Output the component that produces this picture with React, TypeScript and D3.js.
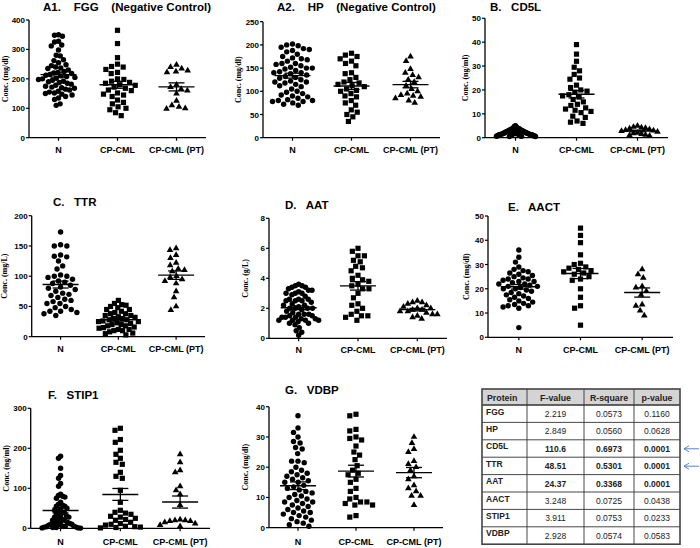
import React from 'react';
import * as d3 from 'd3';

// ---------- DATA ----------
const categories = ['N', 'CP-CML', 'CP-CML (PT)'];

const fggN = [350, 348, 345, 328, 325, 315, 312, 298, 280, 278, 265, 262, 255, 248, 245, 240, 237, 235, 230, 225, 222, 220, 218, 215, 212, 210, 208, 205, 202, 200, 198, 195, 192, 190, 188, 185, 182, 178, 175, 172, 170, 168, 165, 162, 158, 155, 152, 150, 148, 145, 140, 135, 130, 115, 110];
const fggCML = [365, 320, 272, 250, 242, 240, 232, 222, 218, 200, 198, 192, 188, 185, 180, 178, 172, 168, 162, 160, 152, 148, 145, 140, 128, 120, 115, 105, 100, 95, 85, 75];
const fggPT = [248, 240, 235, 228, 225, 222, 180, 172, 165, 160, 150, 125, 110, 105, 100, 98];

const hpN = [202, 200, 198, 195, 192, 190, 188, 185, 180, 175, 172, 170, 168, 165, 160, 158, 155, 152, 150, 148, 145, 142, 140, 138, 135, 132, 130, 128, 125, 122, 120, 118, 115, 112, 110, 105, 100, 98, 95, 92, 90, 88, 85, 82, 80, 80, 78, 78, 75, 72, 70, 140, 150, 160, 120];
const hpCML = [182, 178, 175, 170, 165, 160, 155, 140, 138, 130, 125, 120, 118, 115, 112, 110, 105, 102, 100, 95, 90, 88, 80, 75, 70, 60, 55, 50, 45, 35];
const hpPT = [175, 165, 148, 140, 135, 130, 125, 120, 112, 105, 100, 95, 92, 90, 88, 85, 80, 75];

const cd5lN = [5.0, 4.8, 4.5, 4.2, 4.0, 3.8, 3.8, 3.5, 3.5, 3.2, 3.0, 3.0, 2.8, 2.8, 2.6, 2.5, 2.5, 2.4, 2.2, 2.2, 2.0, 2.0, 2.0, 1.9, 1.8, 1.8, 1.7, 1.6, 1.5, 1.5, 1.5, 1.4, 1.3, 1.2, 1.2, 1.1, 1.0, 1.0, 1.0, 0.9, 0.9, 0.8, 0.8, 0.7, 0.7, 0.6, 0.6, 0.5, 0.5, 1.2, 1.6, 2.3, 2.7, 3.3, 4.1];
const cd5lCML = [39, 35, 32, 29.5, 28, 26.5, 25, 24.5, 22, 21, 20, 19.5, 19, 18, 17.5, 17, 16, 15, 14, 13.5, 12.5, 12, 11.5, 11, 10.5, 9, 8.5, 7, 6.5, 6];
const cd5lPT = [5, 4.5, 4.2, 4, 3.8, 3.5, 3.2, 3, 2.8, 2.5, 2, 1.8, 1.5, 1.2, 1, 0.8];

const ttrN = [173, 152, 150, 150, 135, 133, 132, 125, 117, 112, 102, 100, 100, 98, 95, 92, 90, 88, 85, 82, 80, 78, 75, 72, 70, 68, 65, 62, 60, 58, 55, 55, 50, 48, 45, 42, 42, 40, 38, 35];
const ttrCML = [60, 55, 53, 52, 50, 48, 45, 45, 42, 40, 38, 38, 35, 35, 33, 32, 30, 30, 28, 28, 26, 25, 25, 23, 22, 20, 20, 18, 18, 16, 15, 14, 12, 12, 10, 10, 8, 6, 5, 3];
const ttrPT = [146, 143, 135, 130, 122, 118, 112, 110, 108, 100, 98, 95, 92, 88, 75, 65, 50, 44];

const aatN = [3.6, 3.5, 3.5, 3.4, 3.4, 3.3, 3.2, 3.1, 3.0, 3.0, 2.9, 2.8, 2.6, 2.6, 2.5, 2.5, 2.4, 2.3, 2.2, 2.2, 2.1, 2.0, 2.0, 2.0, 1.9, 1.8, 1.7, 1.6, 1.6, 1.5, 1.5, 1.4, 1.4, 1.3, 1.3, 1.2, 1.2, 1.2, 1.1, 1.0, 1.0, 0.9, 0.7, 0.5, 0.4, 0.2, 3.0, 2.5, 1.2, 1.6, 2.0, 3.2, 1.4, 2.6];
const aatCML = [6.0, 5.8, 5.5, 5.5, 5.2, 5.1, 4.8, 4.7, 4.5, 4.2, 4.0, 3.9, 3.8, 3.6, 3.5, 3.3, 3.3, 3.0, 2.7, 2.3, 2.2, 2.0, 1.8, 1.6, 1.5, 1.5, 1.4, 1.2];
const aatPT = [2.5, 2.4, 2.4, 2.3, 2.2, 2.1, 2.0, 2.0, 1.9, 1.9, 1.8, 1.8, 1.7, 1.6, 1.6, 1.5, 1.4, 1.3];

const aactN = [36, 33, 31, 29, 28, 27.5, 27, 26.5, 26, 25.5, 25, 24.5, 24, 24, 23.5, 23, 23, 22.5, 22, 22, 21.5, 21, 21, 20.5, 20, 20, 19.5, 19, 18.5, 18, 17.5, 17, 16.5, 16, 15.5, 15, 14.5, 14, 13.5, 13, 13, 12.5, 12, 4];
const aactCML = [45, 42, 39, 34, 30.5, 30, 29, 28.5, 28, 27.5, 27, 26.5, 26, 25, 24, 23.5, 20, 16.5, 13, 12, 5];
const aactPT = [28, 26, 24.5, 21, 20.5, 19, 17.5, 13.5, 13, 11, 9];

const stip1N = [180, 175, 150, 132, 125, 112, 105, 85, 82, 80, 78, 75, 65, 60, 58, 55, 55, 50, 48, 45, 42, 40, 38, 35, 32, 30, 28, 28, 25, 22, 20, 20, 18, 15, 15, 12, 12, 10, 10, 8, 8, 6, 5, 5, 4, 3, 3, 2, 2, 1, 1, 0.5];
const stip1CML = [250, 245, 222, 215, 195, 185, 175, 165, 160, 140, 130, 125, 95, 65, 45, 40, 38, 35, 30, 28, 25, 22, 20, 15, 12, 10, 8, 5, 4, 3, 2, 1];
const stip1PT = [185, 165, 145, 140, 105, 95, 85, 58, 22, 20, 20, 18, 18, 15, 12, 8, 5];

const vdbpN = [37, 33, 31.5, 30, 28.5, 28, 26.5, 26, 24.5, 22, 22, 21.5, 20, 19, 18.5, 18, 17.5, 17, 16.5, 16, 15.5, 15, 15, 14, 13.5, 13, 12.5, 12, 11.5, 11, 10.5, 10, 9.5, 9, 8.5, 8.5, 8, 7.5, 7, 6.5, 6, 5.5, 5, 5, 4.5, 4, 3.5, 3, 2.5, 2, 1.5, 1, 0.5];
const vdbpCML = [37.5, 37, 32.5, 32, 30, 29.5, 29, 27, 25, 24, 22.5, 20.5, 19, 18, 17.5, 16, 15, 13, 12, 10, 9.5, 8.5, 8.5, 8, 7.5, 7.5, 4, 3.5];
const vdbpPT = [30, 28, 26, 25, 22, 21, 20, 19, 17, 16, 14, 13, 12, 10.5, 10.5, 7.5];

const proteins = ['FGG', 'HP', 'CD5L', 'TTR', 'AAT', 'AACT', 'STIP1', 'VDBP'];
const fValues = ['2.219', '2.849', '110.6', '48.51', '24.37', '3.248', '3.911', '2.928'];
const rSquares = ['0.0573', '0.0560', '0.6973', '0.5301', '0.3368', '0.0725', '0.0753', '0.0574'];
const pValues = ['0.1160', '0.0628', '0.0001', '0.0001', '0.0001', '0.0438', '0.0233', '0.0583'];
const significant = [false, false, true, true, true, false, false, false];
const arrowRows = ['CD5L', 'TTR'];

// ---------- LAYOUT ----------
const panels = [
  { groups: [fggN, fggCML, fggPT], title: 'A1.    FGG    (Negative Control)', unit: 'Conc. (mg/dl)', max: 400, step: 100, l: 29, r: 206, t: 20, b: 137.7, tx: 43, ty: 11, lx: 8, cy: 153 },
  { groups: [hpN, hpCML, hpPT], title: 'A2.    HP    (Negative Control)', unit: 'Conc. (mg/dl)', max: 250, step: 50, l: 263, r: 440, t: 21.7, b: 137.7, tx: 277, ty: 11, lx: 241, cy: 153 },
  { groups: [cd5lN, cd5lCML, cd5lPT], title: 'B.   CD5L', unit: 'Conc. (ng/ml)', max: 50, step: 10, l: 485, r: 668, t: 18.3, b: 137.7, tx: 490, ty: 11, lx: 468, cy: 153 },
  { groups: [ttrN, ttrCML, ttrPT], title: 'C.   TTR', unit: 'Conc. (mg/L)', max: 200, step: 50, l: 31.7, r: 205, t: 215.7, b: 336.7, tx: 53, ty: 206, lx: 7, cy: 352 },
  { groups: [aatN, aatCML, aatPT], title: 'D.   AAT', unit: 'Conc. (g/L)', max: 8, step: 2, l: 269, r: 447, t: 218.3, b: 338.3, tx: 285, ty: 209, lx: 248, cy: 353 },
  { groups: [aactN, aactCML, aactPT], title: 'E.   AACT', unit: 'Conc. (mg/dl)', max: 50, step: 10, l: 488, r: 673, t: 216, b: 337.3, tx: 508, ty: 211, lx: 468.5, cy: 353 },
  { groups: [stip1N, stip1CML, stip1PT], title: 'F.   STIP1', unit: 'Conc. (ng/ml)', max: 300, step: 100, l: 30.7, r: 210, t: 408.3, b: 528.3, tx: 48, ty: 399, lx: 8.5, cy: 545 },
  { groups: [vdbpN, vdbpCML, vdbpPT], title: 'G.   VDBP', unit: 'Conc. (mg/dl)', max: 40, step: 10, l: 269, r: 443, t: 406.7, b: 527.7, tx: 285, ty: 394, lx: 248, cy: 545 },
];

const SANS = "'Liberation Sans', Arial, sans-serif";
const SERIF = "'Liberation Serif', 'Times New Roman', serif";

const symbolTypes = [d3.symbolCircle, d3.symbolSquare, d3.symbolTriangle];
const symbolSizes = [23, 27, 19];

function swarm(ys: number[], d: number, maxHalf: number): number[] {
  const idx = ys.map((_, i) => i).sort((a, b) => ys[a] - ys[b]);
  const placed: { x: number; y: number }[] = [];
  const xs = new Array(ys.length).fill(0);
  for (const i of idx) {
    const y = ys[i];
    const near = placed.filter((p) => Math.abs(p.y - y) < d);
    const cands = [0];
    for (const p of near) {
      const dx = Math.sqrt(d * d - (p.y - y) ** 2);
      cands.push(p.x + dx, p.x - dx);
    }
    cands.sort((a, b) => Math.abs(a) - Math.abs(b) || a - b);
    let chosen = cands[cands.length - 1];
    for (const c of cands) {
      if (near.every((p) => (p.x - c) ** 2 + (p.y - y) ** 2 >= d * d - 1e-6)) {
        chosen = c;
        break;
      }
    }
    placed.push({ x: chosen, y });
    xs[i] = chosen;
  }
  const m = d3.max(xs, (v: number) => Math.abs(v)) || 0;
  if (m > maxHalf) return xs.map((x) => (x * maxHalf) / m);
  return xs;
}

function Panel({ p }: { p: (typeof panels)[number] }) {
  const y = d3.scaleLinear().domain([0, p.max]).range([p.b, p.t]);
  const x = d3.scalePoint<string>().domain(categories).range([p.l, p.r]).padding(0.5);
  const ticks = d3.range(0, p.max + p.step / 2, p.step);
  return (
    <g>
      <text x={p.tx} y={p.ty} fontFamily={SANS} fontWeight="bold" fontSize={11.5} style={{ whiteSpace: 'pre' }}>
        {p.title}
      </text>
      <text
        transform={`translate(${p.lx},${(p.t + p.b) / 2}) rotate(-90)`}
        textAnchor="middle"
        fontFamily={SERIF}
        fontWeight="bold"
        fontSize={8}
      >
        {p.unit}
      </text>
      {ticks.map((t) => (
        <g key={t}>
          <line x1={p.l - 3} x2={p.l} y1={y(t)} y2={y(t)} stroke="#000" strokeWidth={1.2} />
          <text x={p.l - 4} y={y(t) + 3} textAnchor="end" fontFamily={SANS} fontWeight="bold" fontSize={8}>
            {t}
          </text>
        </g>
      ))}
      {categories.map((c, ci) => {
        const vals = p.groups[ci];
        const ys = vals.map((v) => y(v));
        const xs = swarm(ys, 6.4, 20);
        const cx = x(c)!;
        const mean = d3.mean(vals)!;
        const sem = d3.deviation(vals)! / Math.sqrt(vals.length);
        const sym = d3.symbol().type(symbolTypes[ci]).size(symbolSizes[ci]);
        const path = sym()!;
        return (
          <g key={c}>
            <line x1={cx} x2={cx} y1={p.b} y2={p.b + 3} stroke="#000" strokeWidth={1.2} />
            <text x={cx} y={p.cy} textAnchor="middle" fontFamily={SANS} fontWeight="bold" fontSize={9}>
              {c}
            </text>
            {vals.map((v, i) => (
              <path key={i} d={path} transform={`translate(${cx + xs[i]},${ys[i]})`} fill="#000" />
            ))}
            <line x1={cx - 18} x2={cx + 18} y1={y(mean)} y2={y(mean)} stroke="#000" strokeWidth={1.4} />
            <line x1={cx} x2={cx} y1={y(mean - sem)} y2={y(mean + sem)} stroke="#000" strokeWidth={1.3} />
            <line x1={cx - 8} x2={cx + 8} y1={y(mean + sem)} y2={y(mean + sem)} stroke="#000" strokeWidth={1.3} />
            <line x1={cx - 8} x2={cx + 8} y1={y(mean - sem)} y2={y(mean - sem)} stroke="#000" strokeWidth={1.3} />
          </g>
        );
      })}
      <line x1={p.l} x2={p.l} y1={p.t} y2={p.b} stroke="#000" strokeWidth={1.3} />
      <line x1={p.l} x2={p.r} y1={p.b} y2={p.b} stroke="#000" strokeWidth={1.3} />
    </g>
  );
}

function StatsTable() {
  const colX = [482, 527, 584, 634, 680];
  const top = 389;
  const headH = 16;
  const rowH = 17.4;
  const bottom = top + headH + rowH * proteins.length;
  const headers = ['Protein', 'F-value', 'R-square', 'p-value'];
  const rowTop = (i: number) => top + headH + i * rowH;
  return (
    <g fontFamily={SANS} fill="#222">
      <rect x={colX[0]} y={top} width={colX[4] - colX[0]} height={headH} fill="#d4d4d4" />
      {headers.map((h, i) => (
        <text
          key={h}
          x={i === 0 ? colX[0] + 5 : (colX[i] + colX[i + 1]) / 2}
          y={top + 11.5}
          textAnchor={i === 0 ? 'start' : 'middle'}
          fontWeight="bold"
          fontSize={8.8}
          fill="#222"
        >
          {h}
        </text>
      ))}
      {proteins.map((pr, i) => (
        <g key={pr}>
          <text x={colX[0] + 4} y={rowTop(i) + 9.5} fontWeight="bold" fontSize={8.5} fill="#222">
            {pr}
          </text>
          {[fValues[i], rSquares[i], pValues[i]].map((v, j) => (
            <text
              key={j}
              x={(colX[j + 1] + colX[j + 2]) / 2}
              y={rowTop(i) + 12}
              textAnchor="middle"
              fontWeight={significant[i] ? 'bold' : 'normal'}
              fontSize={8.5}
              fill="#222"
            >
              {v}
            </text>
          ))}
          {i > 0 && <line x1={colX[0]} x2={colX[4]} y1={rowTop(i)} y2={rowTop(i)} stroke="#333" strokeWidth={0.9} />}
          {arrowRows.includes(pr) && (
            <g stroke="#4a74c9" strokeWidth={0.9} fill="none">
              <line x1={684} x2={699} y1={rowTop(i) + 9} y2={rowTop(i) + 9} />
              <polyline points={`689,${rowTop(i) + 6} 684,${rowTop(i) + 9} 689,${rowTop(i) + 12}`} />
            </g>
          )}
        </g>
      ))}
      <line x1={colX[0]} x2={colX[4]} y1={top + headH} y2={top + headH} stroke="#333" strokeWidth={1.6} />
      {colX.slice(1, 4).map((cx) => (
        <line key={cx} x1={cx} x2={cx} y1={top} y2={bottom} stroke="#333" strokeWidth={0.9} />
      ))}
      <rect x={colX[0]} y={top} width={colX[4] - colX[0]} height={bottom - top} fill="none" stroke="#444" strokeWidth={1.6} />
    </g>
  );
}

export default function App() {
  return (
    <svg
      width={700}
      height={548}
      viewBox="0 0 700 548"
      style={{ position: 'absolute', left: 0, top: 0, background: '#fff' }}
    >
      <rect x={0} y={0} width={700} height={548} fill="#fff" />
      {panels.map((p, i) => (
        <Panel key={i} p={p} />
      ))}
      <StatsTable />
    </svg>
  );
}
